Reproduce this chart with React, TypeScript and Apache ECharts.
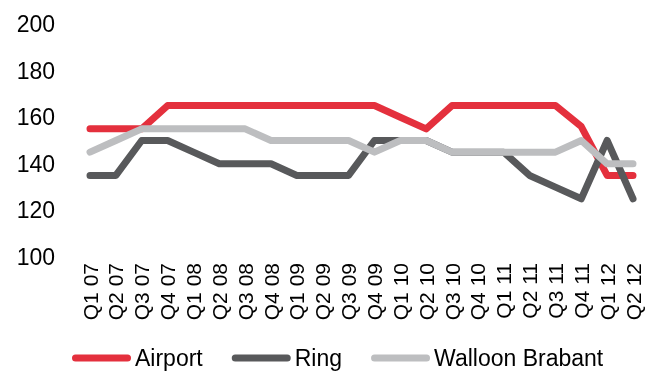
import React, { useEffect, useRef } from "react";
import * as echarts from "echarts";

const categories = [
  "Q1 07", "Q2 07", "Q3 07", "Q4 07", "Q1 08", "Q2 08", "Q3 08", "Q4 08",
  "Q1 09", "Q2 09", "Q3 09", "Q4 09", "Q1 10", "Q2 10", "Q3 10", "Q4 10",
  "Q1 11", "Q2 11", "Q3 11", "Q4 11", "Q1 12", "Q2 12",
];
const airport = [155, 155, 155, 165, 165, 165, 165, 165, 165, 165, 165, 165, 160, 155, 165, 165, 165, 165, 165, 156, 135, 135];
const ring = [135, 135, 150, 150, 145, 140, 140, 140, 135, 135, 135, 150, 150, 150, 145, 145, 145, 135, 130, 125, 150, 125];
const walloon = [145, 150, 155, 155, 155, 155, 155, 150, 150, 150, 150, 145, 150, 150, 145, 145, 145, 145, 145, 150, 140, 140];

const FONT = 'Arial, "Liberation Sans", sans-serif';
const capsule = "path://M3.5,0 H55.5 A3.5,3.5 0 0 1 55.5,7 H3.5 A3.5,3.5 0 0 1 3.5,0 Z";

export default function App() {
  const ref = useRef<HTMLDivElement>(null);
  useEffect(() => {
    if (!ref.current) return;
    const chart = echarts.init(ref.current, null, { renderer: "svg" });
    const mk = (name: string, data: number[], color: string) => ({
      name,
      type: "line",
      data,
      symbol: "none",
      lineStyle: { width: 7, color, cap: "round", join: "round" },
      itemStyle: { color },
    });
    chart.setOption({
      animation: false,
      grid: { left: 90, right: 20, top: 24, bottom: 115 },
      legend: {
        left: 72,
        top: 346,
        padding: 0,
        itemWidth: 59,
        itemHeight: 7,
        itemGap: 29,
        icon: capsule,
        textStyle: { fontFamily: FONT, fontSize: 23, lineHeight: 24, color: "#000", padding: [0, 0, 0, -1] },
        data: ["Airport", "Ring", "Walloon Brabant"],
      },
      xAxis: {
        type: "category",
        data: categories,
        boundaryGap: false,
        axisLine: { show: false },
        axisTick: { show: false },
        axisLabel: { rotate: 90, interval: 0, fontFamily: FONT, fontSize: 21, color: "#000", margin: 6 },
      },
      yAxis: {
        type: "value",
        min: 100,
        max: 200,
        interval: 20,
        splitLine: { show: false },
        axisLine: { show: false },
        axisTick: { show: false },
        axisLabel: { fontFamily: FONT, fontSize: 23, color: "#000", margin: 35 },
      },
      series: [
        mk("Airport", airport, "#E4303D"),
        mk("Ring", ring, "#58595B"),
        mk("Walloon Brabant", walloon, "#BDBEC0"),
      ],
    });
    return () => chart.dispose();
  }, []);
  return <div ref={ref} style={{ position: "fixed", left: 0, top: 0, width: 653, height: 372 }} />;
}
